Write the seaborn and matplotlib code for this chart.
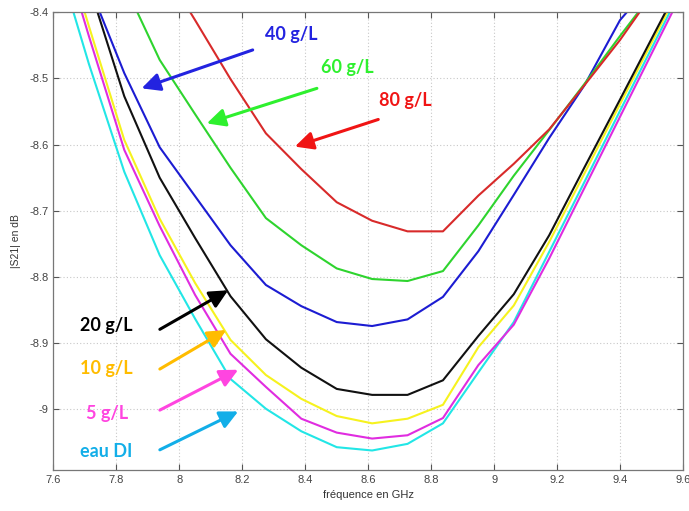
import numpy as np
import pandas as pd
import matplotlib
matplotlib.use("Agg")
import matplotlib.pyplot as plt
import seaborn as sns

nan = np.nan

# frequency points (GHz)
freqs = [7.6, 7.7125, 7.825, 7.9375, 8.05, 8.1625, 8.275, 8.3875, 8.5, 8.6125,
         8.725, 8.8375, 8.95, 9.0625, 9.175, 9.2875, 9.4, 9.5125, 9.625]

# |S21| in dB
eau_di = [-8.299, -8.478, -8.641, -8.767, -8.863, -8.954, -8.999, -9.033, -9.057, -9.062,
          -9.052, -9.021, -8.944, -8.868, -8.762, -8.656, -8.549, -8.443, -8.337]
g5 = [-8.258, -8.436, -8.608, -8.723, -8.827, -8.916, -8.966, -9.014, -9.035, -9.044,
      -9.039, -9.013, -8.933, -8.872, -8.772, -8.665, -8.558, -8.451, -8.344]
g10 = [-8.244, -8.421, -8.593, -8.712, -8.809, -8.895, -8.948, -8.984, -9.010, -9.021,
       -9.014, -8.993, -8.906, -8.843, -8.747, -8.643, -8.539, -8.435, -8.331]
g20 = [nan, -8.359, -8.527, -8.650, -8.741, -8.829, -8.894, -8.937, -8.969, -8.978,
       -8.978, -8.956, -8.889, -8.826, -8.737, -8.634, -8.532, -8.429, -8.327]
g40 = [nan, -8.359, -8.492, -8.604, -8.678, -8.752, -8.812, -8.844, -8.868, -8.874,
       -8.864, -8.830, -8.761, -8.676, -8.590, -8.510, -8.412, -8.350, nan]
g60 = [nan, nan, -8.358, -8.472, -8.554, -8.635, -8.711, -8.752, -8.787, -8.803,
       -8.806, -8.791, -8.722, -8.647, -8.578, -8.508, -8.436, -8.366, nan]
g80 = [nan, nan, nan, -8.325, -8.412, -8.501, -8.583, -8.637, -8.687, -8.715,
       -8.731, -8.731, -8.677, -8.629, -8.577, -8.510, -8.442, -8.366, nan]

series_names = ["eau DI", "5 g/L", "10 g/L", "20 g/L", "40 g/L", "60 g/L", "80 g/L"]
series_values = [eau_di, g5, g10, g20, g40, g60, g80]
line_colors = ["#22e6e6", "#e02ce0", "#f6f21e", "#111111", "#1c1cd2", "#2ed42e", "#d82a2a"]

# annotation labels: text pos, arrow start, arrow tip (data coords), colour
labels = [
    ("40 g/L", (8.357, -8.434), (8.233, -8.457), (7.880, -8.515), "#2323e0"),
    ("60 g/L", (8.533, -8.483), (8.437, -8.515), (8.087, -8.568), "#2ef02e"),
    ("80 g/L", (8.718, -8.533), (8.632, -8.562), (8.367, -8.603), "#f01414"),
    ("20 g/L", (7.767, -8.873), (7.938, -8.879), (8.155, -8.820), "#000000"),
    ("10 g/L", (7.767, -8.938), (7.938, -8.939), (8.149, -8.880), "#ffbc00"),
    ("5 g/L", (7.770, -9.006), (7.938, -9.001), (8.187, -8.940), "#ff45e0"),
    ("eau DI", (7.767, -9.063), (7.938, -9.061), (8.187, -9.003), "#12aee8"),
]

rows = []
for name, vals in zip(series_names, series_values):
    for f, v in zip(freqs, vals):
        rows.append({"freq": f, "S21": v, "serie": name})
df = pd.DataFrame(rows).dropna()

sns.set_theme(style="ticks")
plt.rcParams["font.family"] = ["Liberation Sans", "DejaVu Sans"]

fig = plt.figure(figsize=(6.89, 5.11), dpi=100)
ax = fig.add_axes([0.0776, 0.0802, 0.9136, 0.8959])

sns.lineplot(data=df, x="freq", y="S21", hue="serie", hue_order=series_names,
             palette=dict(zip(series_names, line_colors)), estimator=None,
             sort=False, linewidth=1.5, legend=False, ax=ax)

ax.set_xlim(7.6, 9.6)
ax.set_ylim(-9.0915, -8.4)
ax.set_xticks(np.arange(7.6, 9.61, 0.2))
ax.set_yticks(np.arange(-9.0, -8.39, 0.1))
ax.xaxis.set_major_formatter(matplotlib.ticker.FormatStrFormatter("%g"))
ax.yaxis.set_major_formatter(matplotlib.ticker.FuncFormatter(lambda v, p: "%g" % round(v, 2)))
ax.grid(True, linestyle=(0, (1, 2)), color="#c8c8c8", linewidth=0.8)
ax.tick_params(direction="in", length=4, width=0.8, colors="#555555",
               labelsize=8, labelcolor="#444444", top=True, right=True)
for sp in ax.spines.values():
    sp.set_color("#777777")
    sp.set_linewidth(0.9)

ax.set_xlabel("fréquence en GHz", fontsize=8, color="#333333", labelpad=4)
ax.set_ylabel("|S21| en dB", fontsize=7.5, color="#333333", labelpad=6)

for text, tpos, start, tip, col in labels:
    ax.annotate("", xy=tip, xytext=start,
                arrowprops=dict(arrowstyle="-|>,head_length=0.55,head_width=0.27",
                                color=col, lw=2.2, mutation_scale=20, shrinkA=0, shrinkB=0))
    ax.text(tpos[0], tpos[1], text, color=col, fontsize=13, fontweight="bold",
            family=["Lato", "DejaVu Sans"], ha="center", va="center")

fig.savefig("out.png", dpi=100, facecolor="white")
